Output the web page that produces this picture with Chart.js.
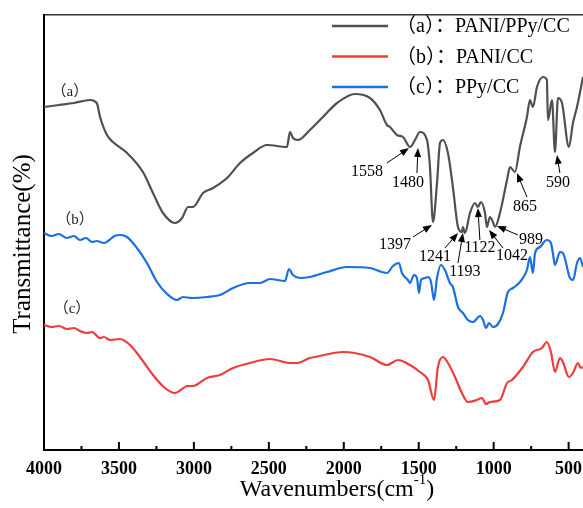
<!DOCTYPE html>
<html>
<head>
<meta charset="utf-8">
<script src="https://cdn.jsdelivr.net/npm/chart.js@4.4.1/dist/chart.umd.min.js"></script>
<style>
  body { margin: 0; background: #fff; }
  canvas { display: block; }
</style>
</head>
<body>
<canvas id="ftir" width="583" height="508"></canvas>
<script>
// series labels (legend)
const seriesNames = ['（a）：PANI/PPy/CC', '（b）：PANI/CC', '（c）：PPy/CC'];

// (a) PANI/PPy/CC - wavenumber (cm-1) and transmittance (arb. units)
const waveA = [4000,3900,3800,3693,3648,3626,3580,3540,3446,3340,3273,3206,3126,3079,3039,3006,2939,2872,2779,2692,
  2606,2512,2379,2359,2339,2306,2226,2139,2045,1925,1825,1759,1712,1692,1645,1605,1558,1525,1492,1445,
  1425,1405,1378,1358,1338,1305,1272,1238,1212,1205,1192,1158,1125,1105,1085,1058,1045,1025,1005,991,
  958,911,891,858,825,778,758,738,711,671,645,638,611,591,571,544,498,471,444,404];
const transA = [343,345,347,350,347,333,315,308,297,278,257,237,227,232,243,243,257,262,272,287,
  297,305,303,318,312,310,320,333,347,356,352,340,325,323,315,313,303,310,318,310,
  283,228,267,307,310,297,263,223,218,223,217,237,247,243,248,237,223,233,228,223,
  237,270,283,278,303,333,350,343,363,373,370,330,350,298,352,347,303,327,343,373];

// (b) PANI/CC
const waveB = [4000,3950,3900,3847,3800,3760,3713,3680,3626,3600,3560,3493,3426,3360,3273,3193,3126,3079,3046,3006,
  2913,2826,2739,2626,2492,2359,2312,2226,2192,2005,1825,1712,1638,1558,1492,1438,1398,1372,1338,1305,
  1258,1212,1172,1112,1078,1051,1025,958,911,878,805,738,678,645,618,591,558,538,498,471,438,418,404];
const transB = [125,123,124,121,122,119,117,118,112,113,110,111,105,93,75,62,57,61,64,64,
  72,75,82,87,91,87,87,92,93,98,93,85,90,85,78,70,50,83,93,87,
  73,57,48,50,52,46,48,50,67,70,83,98,102,108,98,78,92,88,73,77,87,82,83];

// (c) PPy/CC
const waveC = [4000,3950,3900,3849,3800,3760,3720,3680,3648,3600,3573,3530,3493,3446,3380,3313,3246,3179,3113,3073,
  3013,2913,2826,2739,2626,2559,2492,2392,2366,2339,2292,2226,2112,1979,1825,1745,1712,1672,1632,1612,
  1572,1558,1532,1512,1498,1485,1458,1438,1418,1398,1378,1352,1325,1292,1272,1238,1205,1172,1138,1091,
  1071,1051,1031,1005,971,938,905,871,825,778,758,738,724,691,645,618,605,591,558,538,491,471,444,424,404];
const transC = [217,214,216,212,214,210,212,208,209,207,209,214,215,213,202,187,168,156,150,153,
  152,153,155,162,167,167,171,169,181,175,172,173,178,183,182,178,177,184,187,177,
  170,167,175,172,157,170,172,173,168,150,172,185,180,167,163,143,137,130,128,134,
  130,122,127,123,126,137,158,162,168,180,193,177,197,203,210,207,197,185,198,197,172,170,187,192,183];

// peak labels: text, text position, arrow start, arrow tip (wavenumber, value)
const peakText = ['1558','1480','1397','1241','1193','1122','1042','989','865','590'];
const peakPos  = [[1845,278],[1572,267],[1658,205],[1392,193],[1192,178],[1092,202],[878,194],[751,210],[791,243],[571,267]];
const arrowFrom = [[1712,287],[1512,277],[1538,213],[1325,202],[1238,187],[1092,210],[938,202],[838,215],[778,253],[558,277]];
const arrowTo   = [[1565,302],[1505,302],[1412,225],[1238,217],[1205,217],[1105,242],[1031,220],[978,224],[845,277],[578,295]];

// curve tags
const curveTags = ['（a）','（b）','（c）'];
const curveTagPos = [[3827,358],[3793,230],[3813,141]];

const colors = ['#505050', '#ee3d3d', '#1c6fe0'];
const SERIF = '"Liberation Serif", "Times New Roman", "Noto Sans CJK SC", serif';

function pts(w, t) { return w.map((v, i) => ({ x: v, y: t[i] })); }

function arrow(ctx, x1, y1, x2, y2) {
  const ang = Math.atan2(y2 - y1, x2 - x1);
  ctx.beginPath();
  ctx.moveTo(x1, y1);
  ctx.lineTo(x2 - 6 * Math.cos(ang), y2 - 6 * Math.sin(ang));
  ctx.stroke();
  ctx.beginPath();
  ctx.moveTo(x2, y2);
  ctx.lineTo(x2 - 9 * Math.cos(ang) + 3.5 * Math.sin(ang), y2 - 9 * Math.sin(ang) - 3.5 * Math.cos(ang));
  ctx.lineTo(x2 - 9 * Math.cos(ang) - 3.5 * Math.sin(ang), y2 - 9 * Math.sin(ang) + 3.5 * Math.cos(ang));
  ctx.closePath();
  ctx.fill();
}

// draws inward ticks, labels, legend and axis titles
const overlay = {
  id: 'overlay',
  afterDraw(chart) {
    const { ctx, chartArea: a, scales: { x, y } } = chart;
    ctx.save();

    // inward tick marks
    ctx.strokeStyle = '#000';
    ctx.lineWidth = 2;
    x.ticks.forEach(t => {
      const px = x.getPixelForValue(t.value);
      const len = t.value % 500 === 0 ? 8 : 4;
      ctx.beginPath();
      ctx.moveTo(px, a.bottom);
      ctx.lineTo(px, a.bottom - len);
      ctx.stroke();
    });

    // curve tags
    ctx.fillStyle = '#222';
    ctx.font = '15px ' + SERIF;
    ctx.textAlign = 'center';
    ctx.textBaseline = 'middle';
    curveTags.forEach((s, i) => {
      ctx.fillText(s, x.getPixelForValue(curveTagPos[i][0]), y.getPixelForValue(curveTagPos[i][1]));
    });

    // peak labels with arrows
    ctx.fillStyle = '#000';
    ctx.strokeStyle = '#000';
    ctx.lineWidth = 1;
    ctx.font = '16px ' + SERIF;
    peakText.forEach((s, i) => {
      ctx.fillText(s, x.getPixelForValue(peakPos[i][0]), y.getPixelForValue(peakPos[i][1]));
      arrow(ctx,
        x.getPixelForValue(arrowFrom[i][0]), y.getPixelForValue(arrowFrom[i][1]),
        x.getPixelForValue(arrowTo[i][0]), y.getPixelForValue(arrowTo[i][1]));
    });

    // legend
    ctx.font = '20px ' + SERIF;
    ctx.textAlign = 'left';
    chart.data.datasets.forEach((ds, i) => {
      const ly = 26 + i * 30.5;
      ctx.strokeStyle = ds.borderColor;
      ctx.lineWidth = 2.5;
      ctx.beginPath();
      ctx.moveTo(332, ly);
      ctx.lineTo(388, ly);
      ctx.stroke();
      ctx.fillStyle = '#000';
      ctx.fillText(ds.label, 396, ly + 1);
    });

    // x axis title with superscript
    ctx.fillStyle = '#000';
    ctx.textBaseline = 'alphabetic';
    const big = '24px ' + SERIF, small = '15px ' + SERIF;
    ctx.font = big;
    const w1 = ctx.measureText('Wavenumbers(cm').width;
    const w3 = ctx.measureText(')').width;
    ctx.font = small;
    const w2 = ctx.measureText('-1').width;
    let sx = 337 - (w1 + w2 + w3) / 2;
    ctx.font = big;
    ctx.fillText('Wavenumbers(cm', sx, 496);
    ctx.font = small;
    ctx.fillText('-1', sx + w1, 484);
    ctx.font = big;
    ctx.fillText(')', sx + w1 + w2, 496);

    // y axis title
    ctx.translate(23, 244);
    ctx.rotate(-Math.PI / 2);
    ctx.textAlign = 'center';
    ctx.textBaseline = 'middle';
    ctx.font = '25px ' + SERIF;
    ctx.fillText('Transmittance(%)', 0, 0);

    ctx.restore();
  }
};

const series = [pts(waveA, transA), pts(waveB, transB), pts(waveC, transC)];

new Chart(document.getElementById('ftir'), {
  type: 'line',
  data: {
    datasets: series.map((d, i) => ({
      label: seriesNames[i],
      data: d,
      borderColor: colors[i],
      borderWidth: 2.2,
      pointRadius: 0,
      cubicInterpolationMode: 'monotone',
      fill: false
    }))
  },
  options: {
    responsive: false,
    animation: false,
    devicePixelRatio: 1,
    layout: { padding: 0 },
    plugins: { legend: { display: false }, tooltip: { enabled: false } },
    scales: {
      x: {
        type: 'linear',
        reverse: true,
        min: 404,
        max: 4000,
        grid: { display: false, drawTicks: false },
        border: { display: true, color: '#000', width: 2 },
        ticks: {
          stepSize: 250,
          includeBounds: false,
          autoSkip: false,
          maxRotation: 0,
          padding: 9,
          color: '#000',
          font: { family: SERIF, size: 18, weight: 'bold' },
          callback: v => (v % 500 === 0 ? String(v) : '')
        },
        afterFit: s => { s.height = 58; s.paddingLeft = 0; s.paddingRight = 0; }
      },
      xTop: {
        type: 'linear',
        position: 'top',
        reverse: true,
        min: 404,
        max: 4000,
        grid: { display: false, drawTicks: false },
        border: { display: true, color: '#333', width: 1.5 },
        ticks: { display: false },
        afterFit: s => { s.height = 15; s.paddingLeft = 0; s.paddingRight = 0; }
      },
      y: {
        min: 0,
        max: 435,
        grid: { display: false, drawTicks: false },
        border: { display: true, color: '#000', width: 2 },
        ticks: { display: false },
        afterFit: s => { s.width = 44; }
      }
    }
  },
  plugins: [overlay]
});
</script>
</body>
</html>
